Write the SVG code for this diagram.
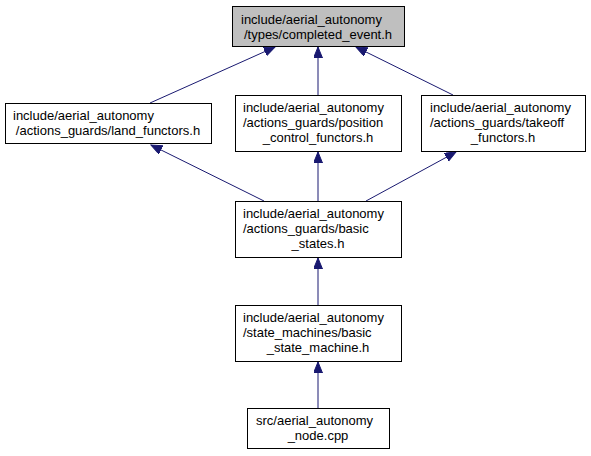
<svg xmlns="http://www.w3.org/2000/svg" width="591" height="456" viewBox="0 0 591 456">
<style>
.n rect{fill:#ffffff;stroke:#000000;stroke-width:1}
.n.hl rect{fill:#bfbfbf}
.n text{font-family:"Liberation Sans",Arial,Helvetica,sans-serif;font-size:13px;fill:#000000}
.c line{stroke:#191970;stroke-width:1;marker-end:url(#ah)}
</style>
<defs>
<marker id="ah" markerUnits="userSpaceOnUse" markerWidth="12" markerHeight="10" refX="11" refY="4.5" orient="auto">
<polygon points="0,0 11,4.5 0,9" fill="#191970" stroke="#191970" stroke-width="1"/>
</marker>
</defs>
<rect width="591" height="456" fill="#ffffff"/>
<g id="connectors" class="c">
<line x1="150" y1="103" x2="275" y2="47"/>
<line x1="318" y1="95" x2="318" y2="47"/>
<line x1="453" y1="95" x2="356" y2="47"/>
<line x1="264" y1="201" x2="151" y2="145"/>
<line x1="318" y1="201" x2="318" y2="152"/>
<line x1="366" y1="201" x2="456" y2="152"/>
<line x1="318" y1="305" x2="318" y2="258"/>
<line x1="318" y1="408" x2="318" y2="362"/>
</g>
<g id="node_completed_event" class="n hl">
<rect x="232.5" y="6.5" width="172" height="40"/>
<text x="241" y="24">include/aerial_autonomy</text>
<text x="318" y="39" text-anchor="middle">/types/completed_event.h</text>
</g>
<g id="node_land_functors" class="n">
<rect x="5.5" y="103.5" width="206" height="40"/>
<text x="13" y="120">include/aerial_autonomy</text>
<text x="108" y="135" text-anchor="middle">/actions_guards/land_functors.h</text>
</g>
<g id="node_position_control_functors" class="n">
<rect x="235.5" y="95.5" width="166" height="56"/>
<text x="243" y="112">include/aerial_autonomy</text>
<text x="243" y="127">/actions_guards/position</text>
<text x="318" y="142" text-anchor="middle">_control_functors.h</text>
</g>
<g id="node_takeoff_functors" class="n">
<rect x="421.5" y="95.5" width="164" height="56"/>
<text x="430" y="112">include/aerial_autonomy</text>
<text x="430" y="127">/actions_guards/takeoff</text>
<text x="503" y="142" text-anchor="middle">_functors.h</text>
</g>
<g id="node_basic_states" class="n">
<rect x="235.5" y="201.5" width="166" height="56"/>
<text x="243" y="218">include/aerial_autonomy</text>
<text x="243" y="233">/actions_guards/basic</text>
<text x="318" y="248" text-anchor="middle">_states.h</text>
</g>
<g id="node_basic_state_machine" class="n">
<rect x="235.5" y="305.5" width="166" height="56"/>
<text x="243" y="322">include/aerial_autonomy</text>
<text x="243" y="337">/state_machines/basic</text>
<text x="318" y="352" text-anchor="middle">_state_machine.h</text>
</g>
<g id="node_aerial_autonomy_node" class="n">
<rect x="247.5" y="408.5" width="142" height="40"/>
<text x="256" y="425">src/aerial_autonomy</text>
<text x="318" y="440" text-anchor="middle">_node.cpp</text>
</g>
</svg>
